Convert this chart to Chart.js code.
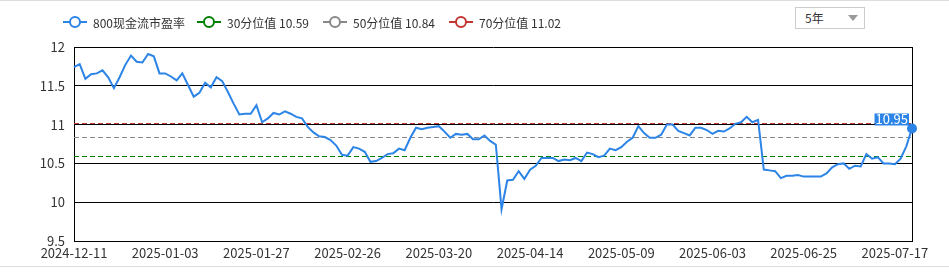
<!DOCTYPE html>
<html><head><meta charset="utf-8">
<script src="https://cdn.jsdelivr.net/npm/chart.js@4"></script>
<style>
html,body{margin:0;padding:0;background:#fff;}
#wrap{position:relative;width:949px;height:277px;overflow:hidden;font-family:"Noto Sans CJK SC","Microsoft YaHei",sans-serif;}
#topline{position:absolute;left:0;top:0;width:949px;height:1px;background:#ddd;}
#botline{position:absolute;left:0;top:266px;width:949px;height:1px;background:#ddd;}
#sel{position:absolute;left:795px;top:7px;width:70px;height:22px;border:1px solid #ccc;box-sizing:border-box;font-size:12px;color:#333;line-height:20px;padding-left:9px;background:#fff;}
#tri{position:absolute;left:52px;top:7px;width:0;height:0;border-left:5px solid transparent;border-right:5px solid transparent;border-top:6px solid #999;}
canvas{position:absolute;left:0;top:0;}
</style></head>
<body><div id="wrap">
<div id="topline"></div>
<canvas id="c" width="949" height="266"></canvas>
<div id="sel">5年<div id="tri"></div></div>
<div id="botline"></div>
</div>
<script>
const dates = [
"2024-12-11","2024-12-12","2024-12-13","2024-12-16","2024-12-17","2024-12-18","2024-12-19","2024-12-20","2024-12-23","2024-12-24","2024-12-25","2024-12-26","2024-12-27","2024-12-30","2024-12-31",
"2025-01-02","2025-01-03","2025-01-06","2025-01-07","2025-01-08","2025-01-09","2025-01-10","2025-01-13","2025-01-14","2025-01-15","2025-01-16","2025-01-17","2025-01-20","2025-01-21","2025-01-22","2025-01-23","2025-01-24","2025-01-27",
"2025-02-05","2025-02-06","2025-02-07","2025-02-10","2025-02-11","2025-02-12","2025-02-13","2025-02-14","2025-02-17","2025-02-18","2025-02-19","2025-02-20","2025-02-21","2025-02-24","2025-02-25","2025-02-26","2025-02-27","2025-02-28",
"2025-03-03","2025-03-04","2025-03-05","2025-03-06","2025-03-07","2025-03-10","2025-03-11","2025-03-12","2025-03-13","2025-03-14","2025-03-17","2025-03-18","2025-03-19","2025-03-20","2025-03-21","2025-03-24","2025-03-25","2025-03-26","2025-03-27","2025-03-28","2025-03-31",
"2025-04-01","2025-04-02","2025-04-03","2025-04-07","2025-04-08","2025-04-09","2025-04-10","2025-04-11","2025-04-14","2025-04-15","2025-04-16","2025-04-17","2025-04-18","2025-04-21","2025-04-22","2025-04-23","2025-04-24","2025-04-25","2025-04-28","2025-04-29","2025-04-30",
"2025-05-06","2025-05-07","2025-05-08","2025-05-09","2025-05-12","2025-05-13","2025-05-14","2025-05-15","2025-05-16","2025-05-19","2025-05-20","2025-05-21","2025-05-22","2025-05-23","2025-05-26","2025-05-27","2025-05-28","2025-05-29","2025-05-30",
"2025-06-03","2025-06-04","2025-06-05","2025-06-06","2025-06-09","2025-06-10","2025-06-11","2025-06-12","2025-06-13","2025-06-16","2025-06-17","2025-06-18","2025-06-19","2025-06-20","2025-06-23","2025-06-24","2025-06-25","2025-06-26","2025-06-27","2025-06-30",
"2025-07-01","2025-07-02","2025-07-03","2025-07-04","2025-07-07","2025-07-08","2025-07-09","2025-07-10","2025-07-11","2025-07-14","2025-07-15","2025-07-16","2025-07-17","2025-07-18","2025-07-21","2025-07-22"
];
const peValues = [
11.74,11.78,11.59,11.65,11.66,11.70,11.61,11.47,11.61,11.77,11.89,11.81,11.80,11.91,11.88,
11.66,11.66,11.62,11.57,11.66,11.51,11.36,11.41,11.54,11.48,11.61,11.56,11.42,11.27,11.13,11.14,11.14,11.25,
11.03,11.08,11.15,11.13,11.17,11.14,11.10,11.08,10.97,10.90,10.85,10.84,10.80,10.73,10.61,10.60,10.71,10.69,
10.65,10.52,10.53,10.57,10.62,10.63,10.69,10.67,10.83,10.96,10.94,10.96,10.97,10.98,10.91,10.83,10.88,10.87,10.88,10.81,10.81,
10.86,10.79,10.74,9.91,10.28,10.29,10.40,10.30,10.42,10.47,10.57,10.57,10.57,10.53,10.55,10.54,10.57,10.53,10.64,10.62,10.58,
10.60,10.69,10.67,10.71,10.78,10.83,10.98,10.89,10.83,10.83,10.87,11.00,11.00,10.92,10.89,10.86,10.96,10.96,10.93,
10.88,10.92,10.91,10.95,11.01,11.03,11.10,11.03,11.06,10.42,10.41,10.40,10.31,10.34,10.34,10.35,10.33,10.33,10.33,10.33,
10.37,10.45,10.49,10.50,10.43,10.47,10.46,10.62,10.56,10.58,10.50,10.50,10.49,10.56,10.72,10.95
];
const yTicks = [9.5,10,10.5,11,11.5,12];
const seriesName = "800现金流市盈率";
const pctNames = ["30分位值","50分位值","70分位值"];
const pctValues = [10.59,10.84,11.02];
const pctColors = ["#008000","#888888","#c23531"];
const lineColor = "#2b84e6";
const labelEvery = 16;

const FONT = '"Noto Sans CJK SC","Microsoft YaHei",sans-serif';

const refPlugin = {
  id:'refPlugin',
  beforeDatasetsDraw(chart){
    const {ctx, chartArea:a, scales:{y}} = chart;
    ctx.save();
    ctx.lineWidth = 1;
    ctx.setLineDash([5,3]);
    pctValues.forEach((v,i)=>{
      const py = Math.round(y.getPixelForValue(v))+0.5;
      ctx.strokeStyle = pctColors[i];
      ctx.beginPath(); ctx.moveTo(a.left,py); ctx.lineTo(a.right,py); ctx.stroke();
    });
    ctx.setLineDash([]);
    ctx.strokeStyle = '#000';
    const rx = Math.round(a.right)+0.5;
    ctx.beginPath(); ctx.moveTo(rx,a.top); ctx.lineTo(rx,a.bottom); ctx.stroke();
    ctx.restore();
  },
  afterDatasetsDraw(chart){
    const {ctx} = chart;
    const meta = chart.getDatasetMeta(0);
    const last = meta.data[meta.data.length-1];
    const txt = peValues[peValues.length-1].toFixed(2);
    ctx.save();
    ctx.font = '13px ' + FONT;
    const w = ctx.measureText(txt).width + 2;
    const bx = last.x - 3 - w, by = last.y - 15;
    ctx.fillStyle = lineColor;
    ctx.fillRect(bx, by, w, 12);
    ctx.fillStyle = '#fff';
    ctx.textAlign = 'center'; ctx.textBaseline = 'middle';
    ctx.fillText(txt, bx + w/2, by + 6);
    ctx.restore();
  },
  afterDraw(chart){
    const {ctx} = chart;
    const items = [
      {c: lineColor, t: seriesName},
      ...pctNames.map((n,i)=>({c:pctColors[i], t:n+' '+pctValues[i].toFixed(2)}))
    ];
    const starts = [63,197,323,449];
    ctx.save();
    ctx.font = '12px ' + FONT;
    ctx.textBaseline = 'middle';
    items.forEach((it,i)=>{
      const x = starts[i], cy = 22;
      ctx.strokeStyle = it.c; ctx.lineWidth = 2;
      ctx.beginPath(); ctx.moveTo(x,cy); ctx.lineTo(x+24,cy); ctx.stroke();
      ctx.beginPath(); ctx.arc(x+12,cy,5,0,Math.PI*2);
      ctx.fillStyle='#fff'; ctx.fill(); ctx.stroke();
      ctx.fillStyle = '#333';
      ctx.fillText(it.t, x+30, cy+1);
    });
    ctx.restore();
  }
};

new Chart(document.getElementById('c'), {
  type:'line',
  data:{
    labels: dates,
    datasets:[{
      label: seriesName,
      data: peValues,
      borderColor: lineColor,
      backgroundColor: lineColor,
      borderWidth: 2,
      tension: 0,
      pointRadius: c => c.dataIndex === peValues.length-1 ? 5 : 0,
      pointHoverRadius: 0,
      pointBackgroundColor: lineColor,
      pointBorderWidth: 0,
      fill:false
    }]
  },
  options:{
    responsive:false,
    animation:false,
    devicePixelRatio:1,
    layout:{padding:{top:47,right:37,left:0,bottom:0}},
    plugins:{legend:{display:false},tooltip:{enabled:false}},
    scales:{
      x:{
        type:'category',
        offset:false,
        grid:{display:false, drawTicks:false},
        border:{display:true,color:'#000'},
        ticks:{
          autoSkip:false, maxRotation:0, minRotation:0, padding:4,
          color:'#333', font:{size:13, family:FONT},
          callback:(v,i)=> i % labelEvery === 0 ? dates[i] : ''
        },
        afterFit: s => { s.height = 25; }
      },
      y:{
        min: yTicks[0], max: yTicks[yTicks.length-1],
        afterBuildTicks: s => { s.ticks = yTicks.map(v=>({value:v})); },
        grid:{color:'#000', lineWidth:1, drawTicks:false},
        border:{display:true,color:'#000'},
        ticks:{padding:9, color:'#333', font:{size:13, family:FONT}, callback: v => String(v)},
        afterFit: s => { s.width = 74; }
      }
    }
  },
  plugins:[refPlugin]
});
</script>
</body></html>
